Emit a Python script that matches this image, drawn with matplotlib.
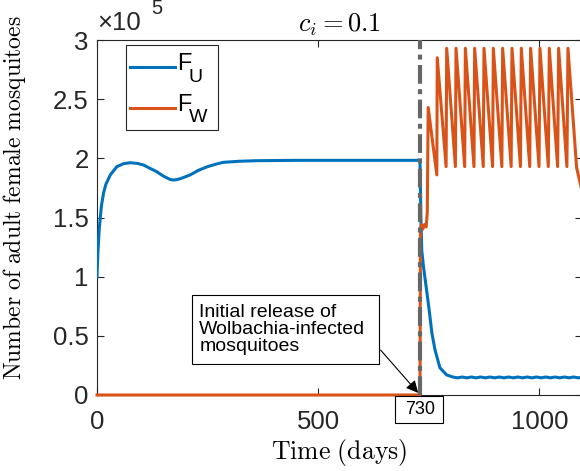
import matplotlib
matplotlib.use('Agg')
import matplotlib.pyplot as plt
from matplotlib.patches import Rectangle

# ---- data (female mosquito counts, in units of 1e5) ----
release_day = 730

fu_days = [0, 2, 5, 10, 15, 20, 30, 45, 60, 75, 90, 105, 120, 135, 150, 165, 172,
           180, 190, 210, 230, 250, 270, 285, 320, 360, 450, 600, 730,
           732, 734, 738, 743, 750, 757, 764, 775, 790, 804,
           815, 825, 836, 846, 857, 867, 878, 888, 899, 909, 920, 930, 941, 951,
           962, 972, 983, 993, 1004, 1014, 1025, 1035, 1046, 1056, 1067, 1077, 1088, 1095]
fu_vals = [1.00, 1.20, 1.40, 1.60, 1.71, 1.78, 1.86, 1.93, 1.955, 1.963, 1.958, 1.944, 1.915,
           1.887, 1.85, 1.822, 1.817, 1.82, 1.83, 1.859, 1.90, 1.93, 1.952, 1.966, 1.975, 1.98,
           1.983, 1.983, 1.983,
           1.50, 1.22, 1.08, 0.94, 0.74, 0.52, 0.38, 0.23, 0.17, 0.152,
           0.145, 0.152, 0.145, 0.152, 0.145, 0.152, 0.145, 0.152, 0.145, 0.152, 0.145, 0.152,
           0.145, 0.152, 0.145, 0.152, 0.145, 0.152, 0.145, 0.152, 0.145, 0.152, 0.145, 0.152,
           0.145, 0.152, 0.145, 0.15]

fw_days = [0, 730, 731, 733, 736, 740, 744, 746.5, 748.5, 768, 769,
           789, 790.3, 810, 811.4, 831, 832.5, 852, 853.5, 873, 874.6, 894, 895.7,
           915, 916.8, 936, 937.9, 957, 958.9, 978, 980.0, 999, 1001.1, 1020, 1022.2,
           1041, 1043.3, 1062, 1064.4, 1084, 1095]
fw_vals = [0, 0, 1.38, 1.44, 1.40, 1.44, 1.42, 1.55, 2.43, 1.86, 2.85,
           1.93, 2.93, 1.93, 2.93, 1.93, 2.93, 1.93, 2.93, 1.93, 2.93, 1.93, 2.93,
           1.93, 2.93, 1.93, 2.93, 1.93, 2.93, 1.93, 2.93, 1.93, 2.93, 1.93, 2.93,
           1.93, 2.93, 1.93, 2.93, 1.92, 1.74]

x_ticks = [0, 500, 1000]
y_ticks = [0, 0.5, 1, 1.5, 2, 2.5, 3]
y_ticklabels = ['0', '0.5', '1', '1.5', '2', '2.5', '3']

# ---- figure ----
W, H = 580, 471
fig = plt.figure(figsize=(W / 100, H / 100), dpi=100)
# axes box in pixels: left 97, right 581.5, top 40, bottom 395
ax = fig.add_axes([97 / W, (H - 395) / H, (581.5 - 97) / W, (395 - 40) / H])
AXW, AXH = 581.5 - 97, 395 - 40

tick_font = 'Liberation Sans'
axcol = '#262626'

ax.plot(fu_days, fu_vals, color='#0072BD', lw=2.2, zorder=3)
ax.plot(fw_days, fw_vals, color='#D95319', lw=2.2, zorder=4, clip_on=False)
ax.axvline(release_day, color='#666666', lw=3, ls=(0, (4.5, 1.3, 1.2, 1.3)), zorder=5)

ax.set_xlim(0, 1095)
ax.set_ylim(0, 3)
ax.set_xticks(x_ticks)
ax.set_yticks(y_ticks)
ax.set_yticklabels(y_ticklabels)
ax.tick_params(direction='in', length=5, width=0.8, top=True, right=True, colors=axcol,
               labelsize=18.5)
ax.tick_params(axis='x', pad=11)
ax.tick_params(axis='y', pad=6)
for lab in ax.get_xticklabels() + ax.get_yticklabels():
    lab.set_fontfamily(tick_font)
for sp in ax.spines.values():
    sp.set_color(axcol)
    sp.set_linewidth(0.8)

# exponent label
ax.text(0.0, 1.015, '\u00d710', transform=ax.transAxes, fontsize=18.5, family=tick_font,
        color=axcol, ha='left', va='bottom')
ax.text(0.113, 1.062, '5', transform=ax.transAxes, fontsize=14.5, family=tick_font,
        color=axcol, ha='left', va='bottom')

ax.set_title(r'$c_i = 0.1$', fontsize=19, math_fontfamily='cm', pad=6)
ax.set_xlabel(r'$\mathrm{Time\ (days)}$', fontsize=18.5, math_fontfamily='cm', labelpad=2)
ax.set_ylabel(r'$\mathrm{Number\ of\ adult\ female\ mosquitoes}$', fontsize=17,
              math_fontfamily='cm')
ax.yaxis.set_label_coords(-0.142, 0.555)

# legend drawn by hand to get MATLAB-like subscripts
leg_left = (126 - 97) / AXW
ax.add_patch(Rectangle((leg_left, (395 - 130) / AXH), (218 - 126) / AXW, 85 / AXH,
                       transform=ax.transAxes, fc='white', ec=axcol, lw=0.8, zorder=8))
for i, (name, sub, col) in enumerate([('F', 'U', '#0072BD'), ('F', 'W', '#D95319')]):
    yc = (395 - (67 + i * 41)) / AXH
    ax.plot([(130 - 97) / AXW, (175 - 97) / AXW], [yc, yc], color=col, lw=2.2,
            transform=ax.transAxes, zorder=9)
    ax.text((177 - 97) / AXW, yc + 3 / AXH, name, transform=ax.transAxes, fontsize=17,
            family=tick_font, color='k', ha='left', va='center', zorder=9)
    ax.text((189 - 97) / AXW, yc - 10 / AXH, sub, transform=ax.transAxes, fontsize=14,
            family=tick_font, color='k', ha='left', va='center', zorder=9)

# annotation box for the release
ax.add_patch(Rectangle((0.196, 0.0873), 0.386, 0.194, transform=ax.transAxes,
                       fc='white', ec='k', lw=0.8, zorder=6))
ax.text(0.211, 0.184, 'Initial release of\nWolbachia-infected\nmosquitoes',
        transform=ax.transAxes, fontsize=14, family=tick_font, ha='left', va='center',
        linespacing=1.0, zorder=7)
ax.annotate('', xy=(release_day, 0), xytext=(637, 0.397),
            arrowprops=dict(arrowstyle='-|>', color='k', lw=0.8, mutation_scale=18),
            zorder=7, annotation_clip=False)

# "730" marker box below the axis
ax.add_patch(Rectangle(((395 - 97) / AXW, -28 / AXH), 48 / AXW, 27 / AXH,
                       transform=ax.transAxes, fc='white', ec='k', lw=0.8,
                       clip_on=False, zorder=6))
ax.text(release_day, -14.5 / AXH * 3, str(release_day), fontsize=13, family=tick_font,
        ha='center', va='center', zorder=7, clip_on=False)

fig.savefig('out.png', dpi=100)
